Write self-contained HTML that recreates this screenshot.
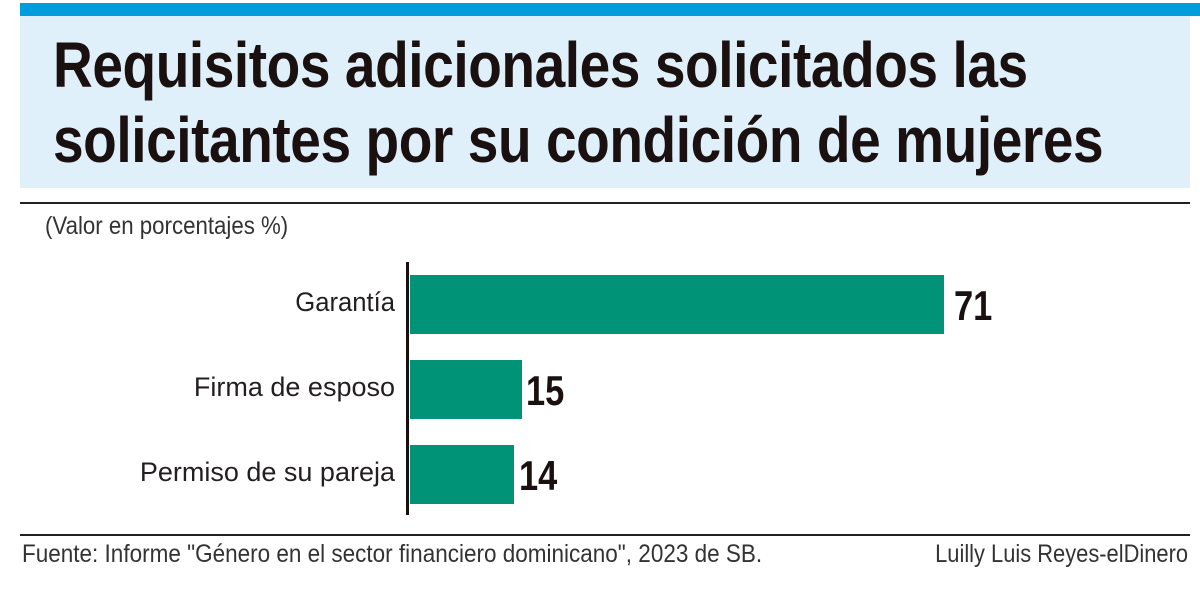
<!DOCTYPE html>
<html><head><meta charset="utf-8"><style>
body{margin:0;width:1200px;height:597px;background:#fff;position:relative;overflow:hidden;font-family:"Liberation Sans",sans-serif;}
.a{position:absolute;white-space:nowrap;}
.t{font-weight:bold;font-size:64px;color:#1a1010;letter-spacing:-0.5px;line-height:1;transform-origin:0 0;transform:scaleX(0.86);}
.l{font-size:27px;color:#231f20;}
.v{font-weight:bold;font-size:42px;color:#1a1010;transform-origin:0 0;transform:scaleX(0.82);}
.bar{position:absolute;background:#009377;left:410px;}
</style></head><body>
<div class="a" style="left:20px;top:3px;width:1180px;height:13px;background:#009ddd"></div>
<div class="a" style="left:20px;top:16px;width:1170px;height:172px;background:#dff0fa"></div>
<div class="a t" style="left:53px;top:33px">Requisitos adicionales solicitados las</div>
<div class="a t" style="left:53px;top:108px">solicitantes por su condición de mujeres</div>
<div class="a" style="left:20px;top:202px;width:1170px;height:2px;background:#231f20"></div>
<div class="a l" style="left:45px;top:212px;font-size:25px;color:#333;transform-origin:0 0;transform:scaleX(0.89)">(Valor en porcentajes %)</div>
<div class="a" style="left:406px;top:262px;width:3px;height:253px;background:#1a1010"></div>
<div class="bar" style="top:275px;width:534px;height:59px"></div>
<div class="bar" style="top:360px;width:112px;height:59px"></div>
<div class="bar" style="top:445px;width:104px;height:59px"></div>
<div class="a l" style="right:805px;top:287px;transform-origin:100% 0;transform:scaleX(0.95)">Garantía</div>
<div class="a l" style="right:805px;top:372px">Firma de esposo</div>
<div class="a l" style="right:805px;top:457px">Permiso de su pareja</div>
<div class="a v" style="left:954px;top:282px">71</div>
<div class="a v" style="left:526px;top:367px">15</div>
<div class="a v" style="left:519px;top:452px">14</div>
<div class="a" style="left:20px;top:534px;width:1170px;height:2px;background:#231f20"></div>
<div class="a l" style="left:22px;top:540px;font-size:25px;color:#333;transform-origin:0 0;transform:scaleX(0.9)">Fuente: Informe "Género en el sector financiero dominicano", 2023 de SB.</div>
<div class="a l" style="right:12px;top:540px;font-size:25px;color:#333;transform-origin:100% 0;transform:scaleX(0.875)">Luilly Luis Reyes-elDinero</div>
</body></html>
